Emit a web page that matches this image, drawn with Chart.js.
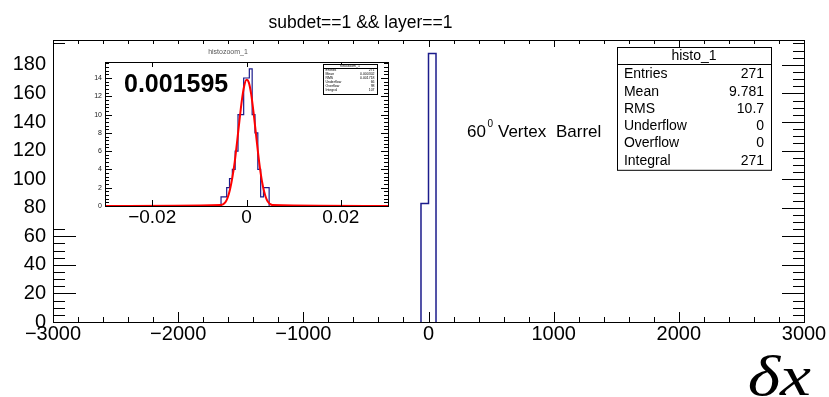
<!DOCTYPE html>
<html>
<head>
<meta charset="utf-8">
<script src="https://cdn.jsdelivr.net/npm/chart.js@4.4.1/dist/chart.umd.min.js"></script>
<style>
html, body { margin: 0; padding: 0; background: #fff; }
#wrap { position: relative; width: 829px; height: 397px; }
#main { position: absolute; left: 0; top: 0; }
#zoom { position: absolute; left: 54px; top: 44px; background: #fff; }
</style>
</head>
<body>
<div id="wrap">
  <canvas id="main" width="829" height="397"></canvas>
  <canvas id="zoom" width="346" height="182"></canvas>
</div>
<script>
// main histogram (histo_1)
const mainEdges = [-60, 0, 60];
const mainCounts = [83, 188];
const xTicks = [-3000, -2000, -1000, 0, 1000, 2000, 3000];
const yTicks = [0, 20, 40, 60, 80, 100, 120, 140, 160, 180];

// zoomed histogram (histozoom_1)
const zoomEdges = [-0.0054, -0.0048, -0.0042, -0.0036, -0.0030, -0.0024, -0.0018, -0.0012, -0.0006,
                   0, 0.0006, 0.0012, 0.0018, 0.0024, 0.0030, 0.0036, 0.0042, 0.0048];
const zoomCounts = [1, 1, 2, 3, 4, 6, 10, 10, 14, 14, 15, 10, 8, 4, 1, 2, 2];
const zoomXTicks = [-0.02, 0, 0.02];
const zoomYTicks = [0, 2, 4, 6, 8, 10, 12, 14];

// gaussian fit curve
const fitX = [-0.03, -0.0055, -0.0045, -0.004, -0.0035, -0.003, -0.0025, -0.002, -0.0015, -0.001, -0.0005,
              0, 0.0005, 0.001, 0.0015, 0.002, 0.0025, 0.003, 0.0035, 0.004, 0.0045, 0.0055, 0.03];
const fitY = [0, 0.1, 0.4, 0.9, 1.8, 3.1, 4.8, 7.0, 9.3, 11.5, 13.1,
              13.8, 13.5, 12.2, 10.2, 7.9, 5.6, 3.6, 2.1, 1.1, 0.5, 0.1, 0];

const statsLabels = ['Entries', 'Mean', 'RMS', 'Underflow', 'Overflow', 'Integral'];
const statsValues = ['271', '9.781', '10.7', '0', '0', '271'];
const zoomStatsValues = ['271', '0.000302', '0.001718', '66', '98', '107'];

const SANS = '"Liberation Sans", Arial, Helvetica, sans-serif';
const NAVY = '#1c1c8c';

function stepPoints(edges, counts) {
    const pts = [{ x: edges[0], y: 0 }];
    counts.forEach((c, i) => {
        pts.push({ x: edges[i], y: c });
        pts.push({ x: edges[i + 1], y: c });
    });
    pts.push({ x: edges[edges.length - 1], y: 0 });
    return pts;
}

function minus(v) {
    return v < 0 ? '\u2212' + String(Math.abs(v)) : String(v);
}

function line(ctx, x1, y1, x2, y2) {
    ctx.beginPath();
    ctx.moveTo(x1, y1);
    ctx.lineTo(x2, y2);
    ctx.stroke();
}

function statsBox(ctx, x, y, w, rowH, headH, title, values, fontSize) {
    const h = headH + rowH * values.length + 2;
    ctx.fillStyle = '#fff';
    ctx.fillRect(x, y, w, h);
    ctx.strokeStyle = '#000';
    ctx.lineWidth = 1;
    ctx.strokeRect(x + 0.5, y + 0.5, w, h);
    line(ctx, x, y + headH + 0.5, x + w, y + headH + 0.5);
    ctx.fillStyle = '#000';
    ctx.font = fontSize + 'px ' + SANS;
    ctx.textBaseline = 'alphabetic';
    ctx.textAlign = 'center';
    ctx.fillText(title, x + w / 2, y + headH - fontSize * 0.3);
    values.forEach((v, i) => {
        const by = y + headH + rowH * (i + 1) - fontSize * 0.22;
        ctx.textAlign = 'left';
        ctx.fillText(statsLabels[i], x + w * 0.045, by);
        ctx.textAlign = 'right';
        ctx.fillText(v, x + w * 0.955, by);
    });
}

const mainDecor = {
    id: 'mainDecor',
    afterDraw(chart) {
        const { ctx, chartArea: a, scales: { x, y } } = chart;
        ctx.save();
        ctx.strokeStyle = '#000';
        ctx.lineWidth = 1;
        ctx.strokeRect(Math.round(a.left) + 0.5, Math.round(a.top) + 0.5,
                       Math.round(a.width), Math.round(a.height));
        // inward ticks
        for (let v = -3000; v <= 3000; v += 200) {
            const px = Math.round(x.getPixelForValue(v)) + 0.5;
            const major = v % 1000 === 0;
            line(ctx, px, a.bottom, px, a.bottom - (major ? 10 : 5));
            line(ctx, px, a.top, px, a.top + (major ? 7 : 4));
        }
        for (let v = 0; v <= 195; v += 5) {
            const py = Math.round(y.getPixelForValue(v)) + 0.5;
            const major = v % 20 === 0;
            line(ctx, a.left, py, a.left + (major ? 23 : 12), py);
            line(ctx, a.right, py, a.right - (major ? 22 : 11), py);
        }
        // title
        ctx.fillStyle = '#000';
        ctx.textBaseline = 'alphabetic';
        ctx.textAlign = 'center';
        ctx.font = '17.5px ' + SANS;
        ctx.fillText('subdet==1 && layer==1', 360.5, 28);
        // label
        ctx.textAlign = 'left';
        ctx.font = '17px ' + SANS;
        ctx.fillText('60', 467, 137);
        ctx.font = '10px ' + SANS;
        ctx.fillText('0', 487.5, 127);
        ctx.font = '17px ' + SANS;
        ctx.fillText('Vertex', 498, 137);
        ctx.fillText('Barrel', 556, 137);
        // axis title, a bit wider than tall like the original
        ctx.save();
        ctx.translate(811, 395);
        ctx.scale(1.2, 1);
        ctx.textAlign = 'right';
        ctx.font = 'italic 58px "Liberation Serif", "Times New Roman", serif';
        ctx.fillText('\u03b4x', 0, 0);
        ctx.restore();
        // stats
        statsBox(ctx, 617, 47, 154, 17.3, 17, 'histo_1', statsValues, 14);
        ctx.restore();
    }
};

const zoomDecor = {
    id: 'zoomDecor',
    afterDraw(chart) {
        const { ctx, chartArea: a, scales: { x, y } } = chart;
        ctx.save();
        ctx.strokeStyle = '#000';
        ctx.lineWidth = 1;
        ctx.strokeRect(Math.round(a.left) + 0.5, Math.round(a.top) + 0.5,
                       Math.round(a.width), Math.round(a.height));
        zoomXTicks.forEach(v => {
            const px = Math.round(x.getPixelForValue(v)) + 0.5;
            line(ctx, px, a.bottom, px, a.bottom - 6);
            line(ctx, px, a.top, px, a.top + 5);
        });
        for (let i = 0; i * 0.4 <= 15.7; i++) {
            const py = Math.round(y.getPixelForValue(i * 0.4)) + 0.5;
            const major = i % 5 === 0;
            line(ctx, a.left, py, a.left + (major ? 7 : 4), py);
            line(ctx, a.right, py, a.right - (major ? 7 : 4), py);
        }
        ctx.fillStyle = '#555';
        ctx.textAlign = 'center';
        ctx.textBaseline = 'alphabetic';
        ctx.font = '7px ' + SANS;
        ctx.fillText('histozoom_1', 174, 10);
        ctx.fillStyle = '#000';
        ctx.textAlign = 'left';
        ctx.font = 'bold 25px ' + SANS;
        ctx.fillText('0.001595', 70, 48);
        statsBox(ctx, 269, 20, 54, 4, 4, 'histozoom_1', zoomStatsValues, 3.5);
        ctx.restore();
    }
};

new Chart(document.getElementById('main'), {
    type: 'scatter',
    data: {
        datasets: [{
            data: stepPoints(mainEdges, mainCounts),
            showLine: true,
            borderColor: NAVY,
            borderWidth: 1.5,
            pointRadius: 0,
            fill: false
        }]
    },
    options: {
        responsive: false,
        animation: false,
        devicePixelRatio: 1,
        layout: { padding: { left: 0, top: 40, right: 25, bottom: 0 } },
        plugins: { legend: { display: false }, tooltip: { enabled: false } },
        scales: {
            x: {
                type: 'linear', min: -3000, max: 3000,
                grid: { display: false, drawTicks: false },
                border: { display: false },
                afterBuildTicks: s => { s.ticks = xTicks.map(v => ({ value: v })); },
                afterFit: s => { s.height = 75; },
                ticks: {
                    maxRotation: 0, autoSkip: false, padding: 0, color: '#000',
                    font: { family: SANS, size: 20 },
                    callback: v => minus(v)
                }
            },
            y: {
                type: 'linear', min: 0, max: 197.4,
                grid: { display: false, drawTicks: false },
                border: { display: false },
                afterBuildTicks: s => { s.ticks = yTicks.map(v => ({ value: v })); },
                afterFit: s => { s.width = 53; },
                ticks: {
                    padding: 7, color: '#000',
                    font: { family: SANS, size: 20 }
                }
            }
        }
    },
    plugins: [mainDecor]
});

new Chart(document.getElementById('zoom'), {
    type: 'scatter',
    data: {
        datasets: [{
            data: fitX.map((v, i) => ({ x: v, y: fitY[i] })),
            showLine: true,
            borderColor: '#ff0000',
            borderWidth: 2,
            pointRadius: 0,
            cubicInterpolationMode: 'monotone',
            fill: false
        }, {
            data: stepPoints(zoomEdges, zoomCounts),
            showLine: true,
            borderColor: NAVY,
            borderWidth: 1.2,
            pointRadius: 0,
            fill: false
        }]
    },
    options: {
        responsive: false,
        animation: false,
        devicePixelRatio: 1,
        layout: { padding: { left: 0, top: 18, right: 12, bottom: 0 } },
        plugins: { legend: { display: false }, tooltip: { enabled: false } },
        scales: {
            x: {
                type: 'linear', min: -0.03, max: 0.03,
                grid: { display: false, drawTicks: false },
                border: { display: false },
                afterBuildTicks: s => { s.ticks = zoomXTicks.map(v => ({ value: v })); },
                afterFit: s => { s.height = 20; },
                ticks: {
                    maxRotation: 0, autoSkip: false, padding: 0, color: '#000',
                    font: { family: SANS, size: 19 },
                    callback: v => minus(v)
                }
            },
            y: {
                type: 'linear', min: 0, max: 15.75,
                grid: { display: false, drawTicks: false },
                border: { display: false },
                afterBuildTicks: s => { s.ticks = zoomYTicks.map(v => ({ value: v })); },
                afterFit: s => { s.width = 51; },
                ticks: {
                    padding: 3, color: '#222',
                    font: { family: SANS, size: 7 }
                }
            }
        }
    },
    plugins: [zoomDecor]
});
</script>
</body>
</html>
